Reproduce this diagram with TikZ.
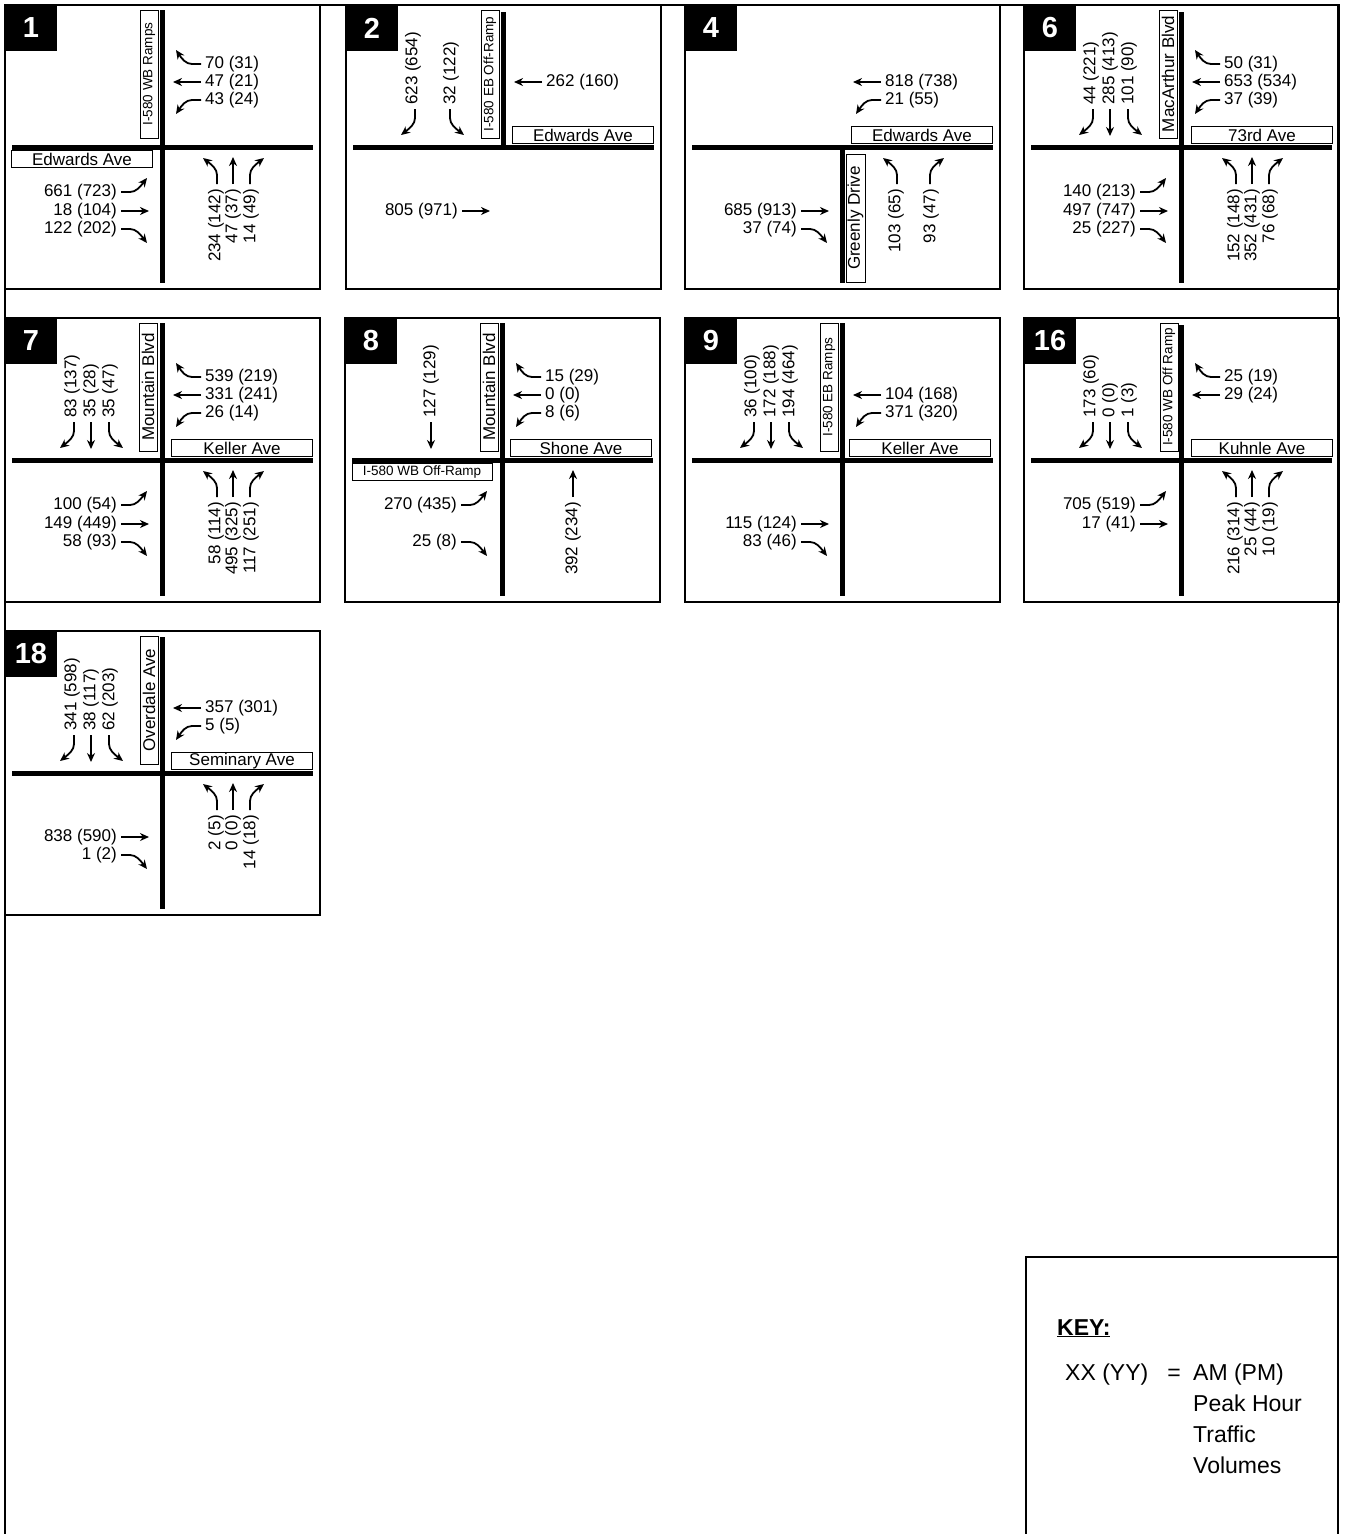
\documentclass[tikz,border=0pt]{standalone}
\usepackage{fontspec}
\setmainfont{Liberation Sans}
\usetikzlibrary{arrows.meta}
\newcommand{\vfont}{\fontsize{17}{19}\selectfont}
\newcommand{\rfont}{\fontsize{13.5}{15}\selectfont}
\newcommand{\nfont}{\fontsize{29}{30}\selectfont\bfseries}
\newcommand{\kfont}{\fontsize{23}{26}\selectfont}

\begin{document}
\begin{tikzpicture}[x=1pt, y=-1pt,
  frm/.style={line width=2pt},
  road/.style={line width=5pt},
  mv/.style={-{Stealth[length=9pt,width=8pt]}, line width=1.8pt},
  vol/.style={font=\vfont, inner sep=1pt},
  rbox/.style={draw, line width=0.8pt, inner sep=0pt, font=\vfont},
  ramp/.style={rbox, font=\rfont},
  nsbox/.style={rotate=90, minimum width=128pt, minimum height=18pt},
  ewbox/.style={minimum width=141pt, minimum height=17pt},
  num/.style={text=white, font=\nfont, inner sep=0pt}]

\useasboundingbox (0,0) rectangle (1345,1534);

\def\panel#1{\def\pid{#1}
  \draw[frm] (-157,-142) rectangle (158,142);
  \fill (-157,-142) rectangle (-105,-96);
  \node[num] (p\pid num) at (-131,-119) {#1};}

\def\wbR#1{\draw[mv] (39,-83) -- (30,-83) .. controls (24,-83) and (20,-88) .. (14,-97);
  \node[vol, anchor=west] (p\pid wR) at (42,-83) {#1};}
\def\wbT#1{\draw[mv] (39,-65) -- (11,-65);
  \node[vol, anchor=west] (p\pid wT) at (42,-65) {#1};}
\def\wbL#1{\draw[mv] (39,-47) -- (30,-47) .. controls (24,-47) and (20,-42) .. (14,-33);
  \node[vol, anchor=west] (p\pid wL) at (42,-47) {#1};}
\def\ebL#1{\draw[mv] (-41,45) -- (-32,45) .. controls (-26,45) and (-22,40) .. (-15,31);
  \node[vol, anchor=east] (p\pid eL) at (-44,45) {#1};}
\def\ebT#1{\draw[mv] (-41,64) -- (-13,64);
  \node[vol, anchor=east] (p\pid eT) at (-44,64) {#1};}
\def\ebR#1{\draw[mv] (-41,82) -- (-32,82) .. controls (-26,82) and (-22,87) .. (-15,96);
  \node[vol, anchor=east] (p\pid eR) at (-44,82) {#1};}
\def\sbR#1{\draw[mv] (-88,-38) -- (-88,-29) .. controls (-88,-23) and (-93,-19) .. (-102,-12);
  \node[vol, rotate=90, anchor=west] (p\pid sR) at (-90,-41) {#1};}
\def\sbT#1{\draw[mv] (-71,-38) -- (-71,-11);
  \node[vol, rotate=90, anchor=west] (p\pid sT) at (-71,-41) {#1};}
\def\sbL#1{\draw[mv] (-53,-38) -- (-53,-29) .. controls (-53,-23) and (-48,-19) .. (-39,-12);
  \node[vol, rotate=90, anchor=west] (p\pid sL) at (-52,-41) {#1};}
\def\nbL#1{\draw[mv] (55,37) -- (55,28) .. controls (55,22) and (50,18) .. (41,11);
  \node[vol, rotate=90, anchor=east] (p\pid nL) at (54,41) {#1};}
\def\nbT#1{\draw[mv] (71,37) -- (71,10);
  \node[vol, rotate=90, anchor=east] (p\pid nT) at (71,41) {#1};}
\def\nbR#1{\draw[mv] (88,37) -- (88,28) .. controls (88,22) and (93,18) .. (102,11);
  \node[vol, rotate=90, anchor=east] (p\pid nR) at (89,41) {#1};}

\draw[frm] (5,1540) -- (5,5) -- (1338,5) -- (1338,1540);

\begin{scope}[shift={(162,147)}]
\panel{1}
\draw[road] (0,-137) -- (0,136);
\draw[road] (-150,0) -- (151,0);
\node[ramp, nsbox] (p1ns) at (-13,-73) {I-580 WB Ramps};
\node[rbox, ewbox] (p1ew) at (-80,12) {Edwards Ave};
\wbR{70 (31)} \wbT{47 (21)} \wbL{43 (24)}
\ebL{661 (723)} \ebT{18 (104)} \ebR{122 (202)}
\nbL{234 (142)} \nbT{47 (37)} \nbR{14 (49)}
\end{scope}

\begin{scope}[shift={(503,147)}]
\panel{2}
\draw[road] (0,-135) -- (0,2);
\draw[road] (-150,0) -- (151,0);
\node[ramp, nsbox] (p2ns) at (-13,-73) {I-580 EB Off-Ramp};
\node[rbox, ewbox] (p2ew) at (80,-12) {Edwards Ave};
\wbT{262 (160)}
\sbR{623 (654)} \sbL{32 (122)}
\ebT{805 (971)}
\end{scope}

\begin{scope}[shift={(842,147)}]
\panel{4}
\draw[road] (0,-2) -- (0,136);
\draw[road] (-150,0) -- (151,0);
\node[rbox, ewbox] (p4ew) at (80,-12) {Edwards Ave};
\node[rbox, nsbox, minimum height=19pt] (p4ns) at (13.5,71) {Greenly Drive};
\wbT{818 (738)} \wbL{21 (55)}
\ebT{685 (913)} \ebR{37 (74)}
\nbL{103 (65)} \nbR{93 (47)}
\end{scope}

\begin{scope}[shift={(1181,147)}]
\panel{6}
\draw[road] (0,-135) -- (0,136);
\draw[road] (-150,0) -- (151,0);
\node[rbox, nsbox] (p6ns) at (-13,-73) {MacArthur Blvd};
\node[rbox, ewbox] (p6ew) at (81,-12) {73rd Ave};
\sbR{44 (221)} \sbT{285 (413)} \sbL{101 (90)}
\wbR{50 (31)} \wbT{653 (534)} \wbL{37 (39)}
\ebL{140 (213)} \ebT{497 (747)} \ebR{25 (227)}
\nbL{152 (148)} \nbT{352 (431)} \nbR{76 (68)}
\end{scope}

\begin{scope}[shift={(162,460)}]
\panel{7}
\draw[road] (0,-137) -- (0,136);
\draw[road] (-150,0) -- (151,0);
\node[rbox, nsbox] (p7ns) at (-14,-73) {Mountain Blvd};
\node[rbox, ewbox] (p7ew) at (80,-12) {Keller Ave};
\sbR{83 (137)} \sbT{35 (28)} \sbL{35 (47)}
\wbR{539 (219)} \wbT{331 (241)} \wbL{26 (14)}
\ebL{100 (54)} \ebT{149 (449)} \ebR{58 (93)}
\nbL{58 (114)} \nbT{495 (325)} \nbR{117 (251)}
\end{scope}

\begin{scope}[shift={(502,460)}]
\panel{8}
\draw[road] (0,-137) -- (0,136);
\draw[road] (-150,0) -- (151,0);
\node[rbox, nsbox] (p8ns) at (-13,-73) {Mountain Blvd};
\node[rbox, ewbox] (p8ew) at (79,-12) {Shone Ave};
\node[ramp, ewbox, minimum width=140pt] (p8ramp) at (-80,12) {I-580 WB Off-Ramp};
\sbT{127 (129)}
\wbR{15 (29)} \wbT{0 (0)} \wbL{8 (6)}
\ebL{270 (435)} \ebR{25 (8)}
\nbT{392 (234)}
\end{scope}

\begin{scope}[shift={(842,460)}]
\panel{9}
\draw[road] (0,-137) -- (0,136);
\draw[road] (-150,0) -- (151,0);
\node[ramp, nsbox] (p9ns) at (-13,-73) {I-580 EB Ramps};
\node[rbox, ewbox] (p9ew) at (78,-12) {Keller Ave};
\sbR{36 (100)} \sbT{172 (188)} \sbL{194 (464)}
\wbT{104 (168)} \wbL{371 (320)}
\ebT{115 (124)} \ebR{83 (46)}
\end{scope}

\begin{scope}[shift={(1181,460)}]
\panel{16}
\draw[road] (0,-135) -- (0,136);
\draw[road] (-150,0) -- (151,0);
\node[ramp, nsbox] (p16ns) at (-12,-73) {I-580 WB Off Ramp};
\node[rbox, ewbox] (p16ew) at (81,-12) {Kuhnle Ave};
\sbR{173 (60)} \sbT{0 (0)} \sbL{1 (3)}
\wbR{25 (19)} \wbT{29 (24)}
\ebL{705 (519)} \ebT{17 (41)}
\nbL{216 (314)} \nbT{25 (44)} \nbR{10 (19)}
\end{scope}

\begin{scope}[shift={(162,773)}]
\panel{18}
\draw[road] (0,-136) -- (0,136);
\draw[road] (-150,0) -- (151,0);
\node[rbox, nsbox] (p18ns) at (-13,-73) {Overdale Ave};
\node[rbox, ewbox] (p18ew) at (80,-12) {Seminary Ave};
\sbR{341 (598)} \sbT{38 (117)} \sbL{62 (203)}
\wbT{357 (301)} \wbL{5 (5)}
\ebT{838 (590)} \ebR{1 (2)}
\nbL{2 (5)} \nbT{0 (0)} \nbR{14 (18)}
\end{scope}

\draw[frm] (1026,1540) -- (1026,1257) -- (1338,1257);
\node[anchor=base west, font=\kfont\bfseries, inner sep=0pt] (keyt) at (1057,1335) {\underline{KEY:}};
\node[anchor=base west, font=\kfont, inner sep=0pt] (keyxx) at (1065,1380) {XX (YY)};
\node[anchor=base, font=\kfont, inner sep=0pt] (keyeq) at (1174,1380) {=};
\foreach \t [count=\i] in {AM (PM), Peak Hour, Traffic, Volumes}
  \node[anchor=base west, font=\kfont, inner sep=0pt] (key\i) at (1193,{1349.5+31*\i}) {\t};
\end{tikzpicture}
\end{document}
